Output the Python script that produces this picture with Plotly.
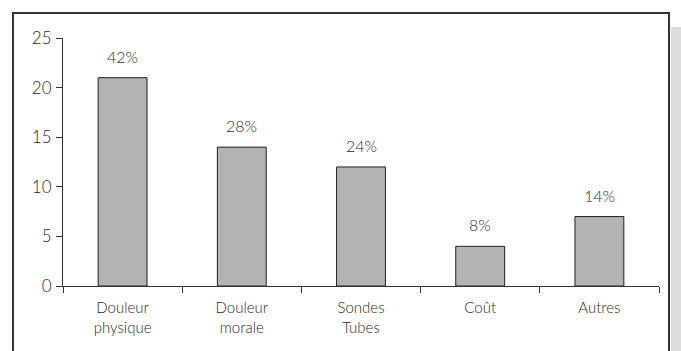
import plotly.graph_objects as go

categories = ["Douleur<br>physique", "Douleur<br>morale", "Sondes<br>Tubes", "Coût", "Autres"]
counts = [21, 14, 12, 4, 7]
shares = ["42%", "28%", "24%", "8%", "14%"]
y_ticks = [0, 5, 10, 15, 20, 25]

W, H = 681, 351
L, R, T, B = 63, 22, 38, 65
pw, ph = W - L - R, H - T - B
FONT = dict(family="Lato", size=15, color="#2a2a2a", weight=300)


def px_x(p):
    return (p - L) / pw


def px_y(p):
    return (H - B - p) / ph


fig = go.Figure(
    go.Bar(
        x=categories,
        y=counts,
        marker=dict(color="#b3b3b3", line=dict(color="#222222", width=1)),
    )
)

# percentage labels above each bar
for cat, val, lab in zip(categories, counts, shares):
    fig.add_annotation(x=cat, y=val, text=lab, showarrow=False,
                       yanchor="bottom", yshift=10, font=dict(FONT, size=16))

fig.update_layout(
    width=W,
    height=H,
    margin=dict(l=L, r=R, t=T, b=B),
    paper_bgcolor="white",
    plot_bgcolor="white",
    bargap=0.59,
    showlegend=False,
    font=FONT,
    shapes=[
        # outer frame
        dict(type="rect", xref="paper", yref="paper",
             x0=px_x(13), x1=px_x(669), y0=px_y(13), y1=px_y(360),
             line=dict(color="#333333", width=2), fillcolor="rgba(0,0,0,0)", layer="below"),
        # side shading
        dict(type="rect", xref="paper", yref="paper",
             x0=px_x(671), x1=px_x(685), y0=px_y(27), y1=px_y(360),
             line=dict(width=0), fillcolor="#dcdcdc", layer="below"),
    ],
)

fig.update_xaxes(
    showline=True, linecolor="#333333", linewidth=1,
    ticks="outside", tickson="boundaries", ticklen=6, tickcolor="#333333",
    showgrid=False, zeroline=False, tickfont=FONT, ticklabelstandoff=8,
)
fig.update_yaxes(
    range=[0, 25], tickvals=y_ticks,
    showline=True, linecolor="#333333", linewidth=1,
    ticks="outside", ticklen=6, tickcolor="#333333",
    showgrid=False, zeroline=False, tickfont=dict(FONT, size=17), ticklabelstandoff=1,
)

fig.write_html("out.html")
